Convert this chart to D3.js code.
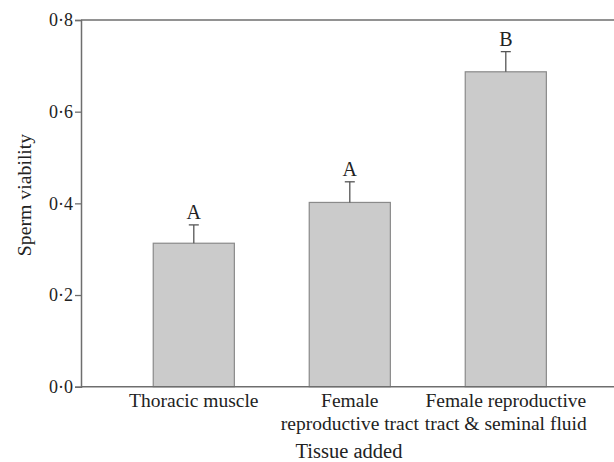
<!DOCTYPE html>
<html>
<head>
<meta charset="utf-8">
<script src="https://cdn.jsdelivr.net/npm/d3@7"></script>
<style>
  body { margin: 0; background: #fff; }
  text { font-family: "Liberation Serif", "DejaVu Serif", serif; fill: #222; }
</style>
</head>
<body>
<svg id="chart" width="614" height="462"></svg>
<script>
// data
const categories = ['Thoracic muscle', 'Female reproductive tract', 'Female reproductive tract & seminal fluid'];
const catLines = [['Thoracic muscle'], ['Female', 'reproductive tract'], ['Female reproductive', 'tract & seminal fluid']];
const means = [0.313, 0.402, 0.687];
const upperErr = [0.353, 0.447, 0.731];
const letters = ['A', 'A', 'B'];
const yTicks = [0, 0.2, 0.4, 0.6, 0.8];

const svg = d3.select('#chart');
const axisColor = '#6e6e6e';

const y = d3.scaleLinear().domain([0, 0.8]).range([386.7, 20]);
const x = d3.scaleBand().domain(categories).range([115.8, 583.8]).paddingInner(0.48).paddingOuter(0.24);
const left = 81, right = 614;

// bars
svg.append('g').selectAll('rect')
  .data(categories)
  .join('rect')
    .attr('x', d => x(d))
    .attr('y', (d, i) => y(means[i]))
    .attr('width', x.bandwidth())
    .attr('height', (d, i) => y(0) - y(means[i]))
    .attr('fill', '#cbcbcb')
    .attr('stroke', '#8a8a8a')
    .attr('stroke-width', 1.2);

// error bars (upper only)
const err = svg.append('g').attr('stroke', '#555').attr('stroke-width', 1.3);
categories.forEach((c, i) => {
  const cx = x(c) + x.bandwidth() / 2;
  err.append('line').attr('x1', cx).attr('x2', cx).attr('y1', y(means[i])).attr('y2', y(upperErr[i]));
  err.append('line').attr('x1', cx - 5).attr('x2', cx + 5).attr('y1', y(upperErr[i])).attr('y2', y(upperErr[i]));
});

// significance letters
svg.append('g').selectAll('text')
  .data(categories)
  .join('text')
    .attr('x', d => x(d) + x.bandwidth() / 2)
    .attr('y', (d, i) => y(upperErr[i]) - 6)
    .attr('text-anchor', 'middle')
    .style('font-size', '20px')
    .text((d, i) => letters[i]);

// y axis
const yAxis = svg.append('g')
  .attr('transform', `translate(${left},0)`)
  .call(d3.axisLeft(y).tickValues(yTicks).tickSize(6).tickPadding(2)
    .tickFormat(d => d3.format('.1f')(d).replace('.', '·')));
yAxis.select('.domain').attr('stroke', axisColor).attr('stroke-width', 1.5);
yAxis.selectAll('.tick line').attr('stroke', axisColor).attr('stroke-width', 1.3);
yAxis.selectAll('.tick text').style('font-size', '18px').style('font-family', '"Liberation Serif", serif').attr('fill', '#222');

// top and bottom frame lines
svg.append('line').attr('x1', left).attr('x2', right).attr('y1', y(0.8)).attr('y2', y(0.8))
  .attr('stroke', axisColor).attr('stroke-width', 1.5);
svg.append('line').attr('x1', left).attr('x2', right).attr('y1', y(0)).attr('y2', y(0))
  .attr('stroke', axisColor).attr('stroke-width', 1.5);

// category labels
const catG = svg.append('g');
categories.forEach((c, i) => {
  const t = catG.append('text')
    .attr('x', x(c) + x.bandwidth() / 2)
    .attr('y', 407)
    .attr('text-anchor', 'middle')
    .style('font-size', '19.5px');
  catLines[i].forEach((ln, j) => {
    t.append('tspan').attr('x', x(c) + x.bandwidth() / 2).attr('dy', j === 0 ? 0 : 22.5).text(ln);
  });
});

// axis titles
svg.append('text')
  .attr('x', 349).attr('y', 458)
  .attr('text-anchor', 'middle')
  .style('font-size', '20.5px')
  .text('Tissue added');

svg.append('text')
  .attr('transform', `translate(31,195) rotate(-90)`)
  .attr('text-anchor', 'middle')
  .style('font-size', '19.8px')
  .text('Sperm viability');
</script>
</body>
</html>
